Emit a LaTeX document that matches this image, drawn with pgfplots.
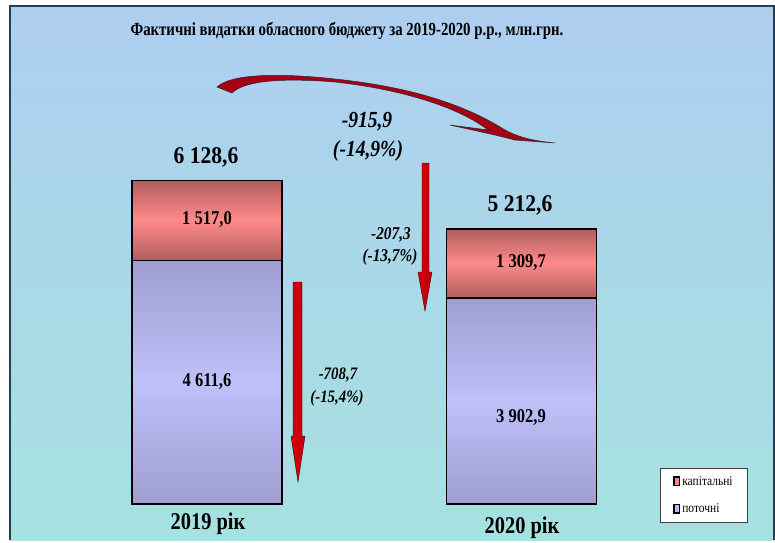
\documentclass[border=0pt]{standalone}
\usepackage{pgfplots}
\pgfplotsset{compat=1.18}
\usepackage{fontspec}
\setmainfont{Liberation Serif}
\newfontfamily\condA[FakeStretch=0.85]{Liberation Serif}
\newfontfamily\condB[FakeStretch=0.9]{Liberation Serif}
\newfontfamily\titlefont[FakeStretch=0.8]{Liberation Serif}
\definecolor{bgtop}{RGB}{174,206,240}
\definecolor{bgbot}{RGB}{166,226,224}
\definecolor{frame}{RGB}{40,60,85}
\definecolor{redB}{RGB}{250,132,132}
\definecolor{lavB}{RGB}{186,186,244}
\definecolor{arrL}{RGB}{215,0,10}
\definecolor{arrM}{RGB}{55,0,0}
\definecolor{arrR}{RGB}{190,0,10}
\definecolor{curv}{RGB}{165,0,20}
\pgfplotsset{
  frameaxis/.style={
    at={(10bp,36bp)}, anchor=south west,
    scale only axis, width=764bp, height=498bp,
    xmin=-0.6264, xmax=1.803, ymin=0, ymax=9432,
    hide axis, clip=false,
  },
}
\begin{document}
\begin{tikzpicture}
\begin{scope}[x=1bp,y=-1bp,yshift=540bp]
  \fill[white] (0,0) rectangle (775,540);
  \shade[top color=bgtop, bottom color=bgbot] (10,6) rectangle (774,540);
  \draw[frame, line width=1.5bp] (10,540) -- (10,6) -- (774,6) -- (774,540);
\end{scope}
% gradient fills of the bar segments
\begin{axis}[frameaxis,
  colormap={barmap}{rgb255(0cm)=(158,158,210) rgb255(1cm)=(192,192,250) rgb255(2cm)=(176,94,94) rgb255(3cm)=(255,138,138)},
  point meta min=0, point meta max=3,
]
\addplot[surf, shader=interp, mesh/cols=2, point meta=explicit, forget plot]
  coordinates {(-0.2385,0) [0] (0.2385,0) [0]
               (-0.2385,2305.8) [1] (0.2385,2305.8) [1]
               (-0.2385,4611.6) [0] (0.2385,4611.6) [0]};
\addplot[surf, shader=interp, mesh/cols=2, point meta=explicit, forget plot]
  coordinates {(-0.2385,4611.6) [2] (0.2385,4611.6) [2]
               (-0.2385,5370.1) [3] (0.2385,5370.1) [3]
               (-0.2385,6128.6) [2] (0.2385,6128.6) [2]};
\addplot[surf, shader=interp, mesh/cols=2, point meta=explicit, forget plot]
  coordinates {(0.7615,0) [0] (1.2385,0) [0]
               (0.7615,1951.45) [1] (1.2385,1951.45) [1]
               (0.7615,3902.9) [0] (1.2385,3902.9) [0]};
\addplot[surf, shader=interp, mesh/cols=2, point meta=explicit, forget plot]
  coordinates {(0.7615,3902.9) [2] (1.2385,3902.9) [2]
               (0.7615,4557.75) [3] (1.2385,4557.75) [3]
               (0.7615,5212.6) [2] (1.2385,5212.6) [2]};
\end{axis}
% stacked bars (outlines) and legend
\begin{axis}[frameaxis,
  ybar stacked, bar width=150bp,
  reverse legend,
  legend cell align=left,
  legend style={at={(axis description cs:0.8508,0.0723)}, anchor=north west,
    draw=black!75, line width=0.8bp, fill=white,
    inner xsep=13bp, inner ysep=6bp, row sep=13bp,
    font=\condA\fontsize{13.5bp}{15bp}\selectfont},
]
\addplot[draw=black, line width=1.6bp, fill=none,
  legend image code/.code={\draw[draw=black,line width=1.4bp,fill=lavB] (0bp,-4bp) rectangle (5.5bp,4.5bp);}]
  coordinates {(0,4611.6) (1,3902.9)};
\addlegendentry{поточні}
\addplot[draw=black, line width=1.6bp, fill=none,
  legend image code/.code={\draw[draw=black,line width=1.4bp,fill=redB] (0bp,-4bp) rectangle (5.5bp,4.5bp);}]
  coordinates {(0,1517.0) (1,1309.7)};
\addlegendentry{капітальні}
\end{axis}
\begin{scope}[x=1bp,y=-1bp,yshift=540bp]
  % title
  \node at (347,31) {\titlefont\bfseries\fontsize{18.5bp}{21bp}\selectfont Фактичні видатки обласного бюджету за 2019-2020 р.р., млн.грн.};
  % totals
  \node at (206,157) {\condB\bfseries\fontsize{24bp}{27bp}\selectfont 6 128,6};
  \node at (520,205) {\condB\bfseries\fontsize{24bp}{27bp}\selectfont 5 212,6};
  % inner values
  \node at (207,220) {\condA\bfseries\fontsize{19.5bp}{22bp}\selectfont 1 517,0};
  \node at (207,382) {\condA\bfseries\fontsize{19.5bp}{22bp}\selectfont 4 611,6};
  \node at (521,263) {\condA\bfseries\fontsize{19.5bp}{22bp}\selectfont 1 309,7};
  \node at (521,418) {\condA\bfseries\fontsize{19.5bp}{22bp}\selectfont 3 902,9};
  % year labels
  \node at (208,524) {\condA\bfseries\fontsize{24bp}{27bp}\selectfont 2019 рік};
  \node at (522,528) {\condA\bfseries\fontsize{24bp}{27bp}\selectfont 2020 рік};
  % changes
  \node at (367,122) {\condA\bfseries\itshape\fontsize{23bp}{26bp}\selectfont -915,9};
  \node at (368,151) {\condA\bfseries\itshape\fontsize{23bp}{26bp}\selectfont (-14,9\%)};
  \node at (391,235) {\condA\bfseries\itshape\fontsize{18bp}{21bp}\selectfont -207,3};
  \node at (390,257) {\condA\bfseries\itshape\fontsize{18bp}{21bp}\selectfont (-13,7\%)};
  \node at (338,375) {\condA\bfseries\itshape\fontsize{17.5bp}{21bp}\selectfont -708,7};
  \node at (337,398) {\condA\bfseries\itshape\fontsize{17.5bp}{21bp}\selectfont (-15,4\%)};
  % down arrows
  \path[left color=arrL, middle color=arrM, right color=arrR, draw=arrM, line width=0.4bp]
    (293,282) -- (302,282) -- (302,436) -- (305,436) -- (298,482) -- (291,436) -- (293,436) -- cycle;
  \path[left color=arrL, middle color=arrM, right color=arrR, draw=arrM, line width=0.4bp]
    (422,163) -- (429,163) -- (429,272) -- (432,272) -- (425,311) -- (418,272) -- (422,272) -- cycle;
  % curved arrow
  \path[fill=curv, draw=black!85, line width=0.5bp]
    (217,87) .. controls (233,72) and (290,74) .. (335,79)
    .. controls (420,88) and (470,108) .. (505,130)
    .. controls (520,138) and (535,141) .. (555,143)
    -- (515,140) -- (495,135) -- (450,125) -- (488,130)
    .. controls (465,112) and (415,91) .. (335,82)
    .. controls (285,78) and (245,80) .. (232,93)
    -- cycle;
\end{scope}
\end{tikzpicture}
\end{document}
